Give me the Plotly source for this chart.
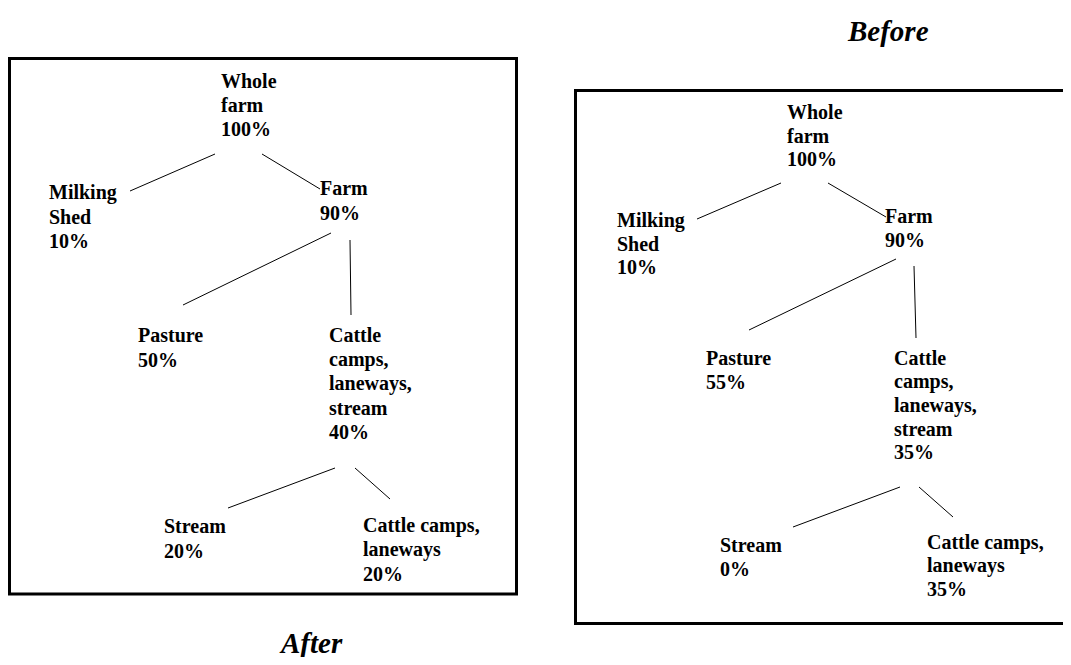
import plotly.graph_objects as go

# ---------------- data ----------------
node_labels = ["Whole farm", "Milking Shed", "Farm", "Pasture",
               "Cattle camps, laneways, stream", "Stream", "Cattle camps, laneways"]
# how each label is broken into lines in the diagram
node_label_lines = [["Whole", "farm"], ["Milking", "Shed"], ["Farm"], ["Pasture"],
                    ["Cattle", "camps,", "laneways,", "stream"], ["Stream"],
                    ["Cattle camps,", "laneways"]]
after_pct = [100, 10, 90, 50, 40, 20, 20]
before_pct = [100, 10, 90, 55, 35, 0, 35]
edges = [(0, 1), (0, 2), (2, 3), (2, 4), (4, 5), (4, 6)]
panel_titles = ["After", "Before"]

# ---------------- layout (page pixel coordinates) ----------------
W, H = 1071, 665
PAGE_MARGIN = 8  # default body margin of the html page
panels = [
    dict(values=after_pct, title="After", title_xy=(311, 643),
         box=(9.5, 58.5, 516.5, 594), spacing=24.2,
         text_xy=[(221, 87.5), (49, 199), (320, 195), (138, 342), (329, 342), (164, 533), (363, 532)],
         edge_xy=[(215, 154, 130, 191), (262, 154, 320, 189), (331, 233, 183, 305),
                  (350, 240, 351, 315), (335, 468, 228, 508), (355, 468, 390, 499)]),
    dict(values=before_pct, title="Before", title_xy=(888, 31),
         box=(575.5, 90.5, 1090, 623.5), spacing=23.5,
         text_xy=[(787, 119), (617, 227), (885, 223), (706, 365), (894, 365), (720, 552), (927, 549)],
         edge_xy=[(781, 183, 697, 219), (828, 183, 886, 217), (896, 259, 749, 330),
                  (914, 266, 916, 338), (900, 487, 793, 527), (919, 487, 953, 517)]),
]

FONT = "Liberation Serif"
FS = 20

fig = go.Figure()
annotations = []
shapes = []

for p in panels:
    # connector lines
    xs, ys = [], []
    for (a, b), (x0, y0, x1, y1) in zip(edges, p["edge_xy"]):
        xs += [x0, x1, None]
        ys += [y0, y1, None]
    fig.add_trace(go.Scatter(x=xs, y=ys, mode="lines",
                             line=dict(color="black", width=1),
                             hoverinfo="skip", showlegend=False))
    # node labels
    for i, lines in enumerate(node_label_lines):
        all_lines = lines + [f"{p['values'][i]}%"]
        x0, yb = p["text_xy"][i]
        for k, txt in enumerate(all_lines):
            annotations.append(dict(
                x=x0, y=yb + k * p["spacing"] - 0.33 * FS, xref="x", yref="y",
                text=f"<b>{txt}</b>", showarrow=False, xanchor="left", yanchor="middle",
                xshift=-2, font=dict(family=FONT, size=FS, color="black")))
    # frame
    bx0, by0, bx1, by1 = p["box"]
    shapes.append(dict(type="rect", xref="x", yref="y", x0=bx0, y0=by0, x1=bx1, y1=by1,
                       line=dict(color="black", width=3), fillcolor="rgba(0,0,0,0)"))
    # panel title
    tx, ty = p["title_xy"]
    annotations.append(dict(x=tx, y=ty, xref="x", yref="y", text=f"<b><i>{p['title']}</i></b>",
                            showarrow=False, xanchor="center", yanchor="middle", borderpad=0,
                            font=dict(family=FONT, size=29, color="black")))

fig.update_layout(
    width=W - 2 * PAGE_MARGIN, height=H - 2 * PAGE_MARGIN,
    margin=dict(l=0, r=0, t=0, b=0),
    paper_bgcolor="white", plot_bgcolor="white",
    xaxis=dict(range=[PAGE_MARGIN, W - PAGE_MARGIN], visible=False, fixedrange=True),
    yaxis=dict(range=[H - PAGE_MARGIN, PAGE_MARGIN], visible=False, fixedrange=True),
    annotations=annotations, shapes=shapes, showlegend=False,
)

fig.write_html("out.html")
